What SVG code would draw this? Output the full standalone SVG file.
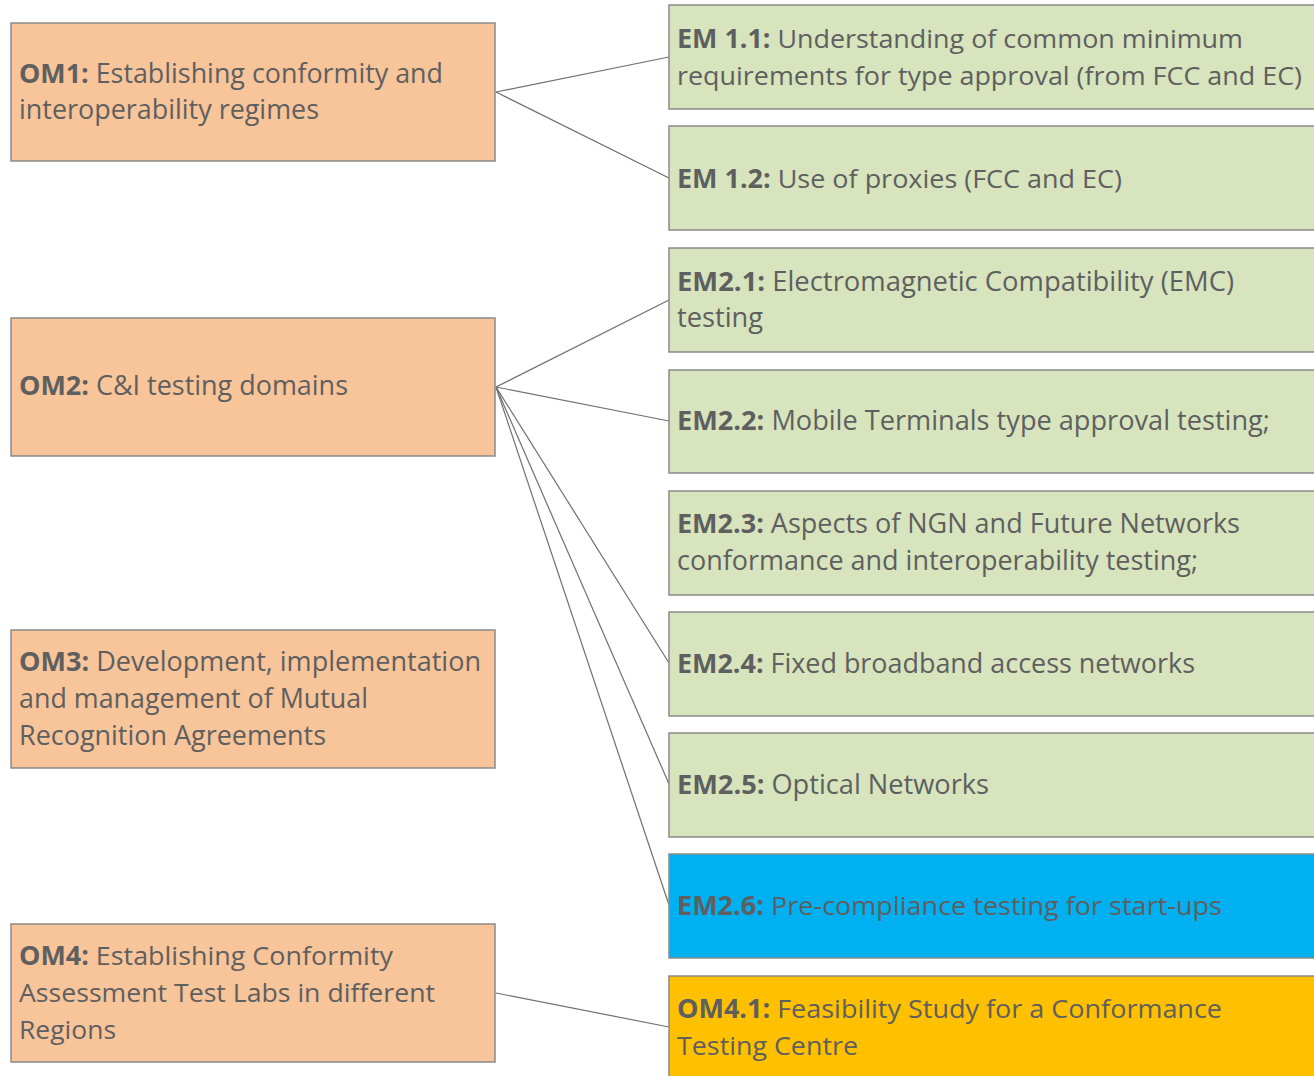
<svg xmlns="http://www.w3.org/2000/svg" width="1314" height="1076" viewBox="0 0 1314 1076">
<style>
rect{stroke:#8a8a8a;stroke-width:1.5}
.om{fill:#F8C49A}
.em{fill:#D7E4BD}
.bl{fill:#00B0F0}
.ye{fill:#FFC000}
text{font-family:"Open Sans","Noto Sans",sans-serif;font-size:27px;fill:#5f5f5f}
.c{font-size:26px}
.b{font-weight:bold}
#connectors line{stroke:#707070;stroke-width:1.2}
</style>
<rect width="1314" height="1076" fill="#fff" style="stroke:none"/>
<g id="connectors">
<line x1="496" y1="92" x2="669" y2="57"/>
<line x1="496" y1="92" x2="669" y2="178"/>
<line x1="496" y1="387" x2="669" y2="300"/>
<line x1="496" y1="387" x2="669" y2="421"/>
<line x1="496" y1="387" x2="669" y2="663"/>
<line x1="496" y1="387" x2="669" y2="784"/>
<line x1="496" y1="387" x2="669" y2="905"/>
<line x1="496" y1="993" x2="669" y2="1027"/>
</g>
<g id="OM1">
<rect class="om" x="11" y="23" width="484" height="138"/>
<text x="19" y="83" textLength="424" lengthAdjust="spacingAndGlyphs"><tspan class="b">OM1:</tspan> Establishing conformity and</text>
<text x="19" y="119" textLength="300" lengthAdjust="spacingAndGlyphs">interoperability regimes</text>
</g>
<g id="OM2">
<rect class="om" x="11" y="318" width="484" height="138"/>
<text x="19" y="395" textLength="329" lengthAdjust="spacingAndGlyphs"><tspan class="b">OM2:</tspan> C&amp;I testing domains</text>
</g>
<g id="OM3">
<rect class="om" x="11" y="630" width="484" height="138"/>
<text x="19" y="671" textLength="462" lengthAdjust="spacingAndGlyphs"><tspan class="b">OM3:</tspan> Development, implementation</text>
<text x="19" y="708" textLength="349" lengthAdjust="spacingAndGlyphs">and management of Mutual</text>
<text x="19" y="745" textLength="307" lengthAdjust="spacingAndGlyphs">Recognition Agreements</text>
</g>
<g id="OM4">
<rect class="om" x="11" y="924" width="484" height="138"/>
<text class="c" x="19" y="965" textLength="374" lengthAdjust="spacingAndGlyphs"><tspan class="b">OM4:</tspan> Establishing Conformity</text>
<text class="c" x="19" y="1002" textLength="416" lengthAdjust="spacingAndGlyphs">Assessment Test Labs in different</text>
<text class="c" x="19" y="1039" textLength="97" lengthAdjust="spacingAndGlyphs">Regions</text>
</g>
<g id="EM1.1">
<rect class="em" x="669" y="5" width="650" height="104"/>
<text class="c" x="677" y="48" textLength="566" lengthAdjust="spacingAndGlyphs"><tspan class="b">EM 1.1:</tspan> Understanding of common minimum</text>
<text class="c" x="677" y="85" textLength="625" lengthAdjust="spacingAndGlyphs">requirements for type approval (from FCC and EC)</text>
</g>
<g id="EM1.2">
<rect class="em" x="669" y="126" width="650" height="104"/>
<text class="c" x="677" y="188" textLength="445" lengthAdjust="spacingAndGlyphs"><tspan class="b">EM 1.2:</tspan> Use of proxies (FCC and EC)</text>
</g>
<g id="EM2.1">
<rect class="em" x="669" y="248" width="650" height="104"/>
<text x="677" y="291" textLength="557" lengthAdjust="spacingAndGlyphs"><tspan class="b">EM2.1:</tspan> Electromagnetic Compatibility (EMC)</text>
<text x="677" y="327" textLength="86" lengthAdjust="spacingAndGlyphs">testing</text>
</g>
<g id="EM2.2">
<rect class="em" x="669" y="370" width="650" height="103"/>
<text x="677" y="430" textLength="593" lengthAdjust="spacingAndGlyphs"><tspan class="b">EM2.2:</tspan> Mobile Terminals type approval testing;</text>
</g>
<g id="EM2.3">
<rect class="em" x="669" y="491" width="650" height="104"/>
<text x="677" y="533" textLength="563" lengthAdjust="spacingAndGlyphs"><tspan class="b">EM2.3:</tspan> Aspects of NGN and Future Networks</text>
<text x="677" y="570" textLength="521" lengthAdjust="spacingAndGlyphs">conformance and interoperability testing;</text>
</g>
<g id="EM2.4">
<rect class="em" x="669" y="612" width="650" height="104"/>
<text x="677" y="673" textLength="518" lengthAdjust="spacingAndGlyphs"><tspan class="b">EM2.4:</tspan> Fixed broadband access networks</text>
</g>
<g id="EM2.5">
<rect class="em" x="669" y="733" width="650" height="104"/>
<text x="677" y="794" textLength="312" lengthAdjust="spacingAndGlyphs"><tspan class="b">EM2.5:</tspan> Optical Networks</text>
</g>
<g id="EM2.6">
<rect class="bl" x="669" y="854" width="650" height="104"/>
<text class="c" x="677" y="915" textLength="545" lengthAdjust="spacingAndGlyphs"><tspan class="b">EM2.6:</tspan> Pre-compliance testing for start-ups</text>
</g>
<g id="OM4.1">
<rect class="ye" x="669" y="976" width="650" height="110"/>
<text class="c" x="677" y="1018" textLength="545" lengthAdjust="spacingAndGlyphs"><tspan class="b">OM4.1:</tspan> Feasibility Study for a Conformance</text>
<text class="c" x="677" y="1055" textLength="181" lengthAdjust="spacingAndGlyphs">Testing Centre</text>
</g>
</svg>
